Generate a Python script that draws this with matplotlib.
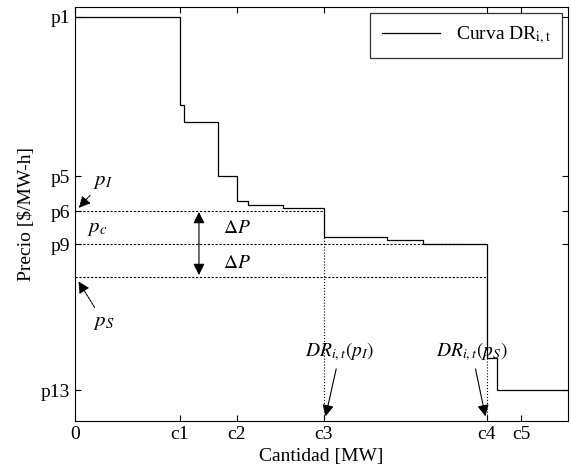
import matplotlib.pyplot as plt

plt.rcParams['font.family'] = ['Liberation Serif', 'DejaVu Serif']
plt.rcParams['mathtext.fontset'] = 'stix'

# stepped demand-response curve: quantity edges and price level per block
edges = [0, 105, 109, 143, 162, 173, 208, 249, 312, 348, 412, 422, 493]
prices = [404, 316, 299, 245, 220, 216, 213, 184, 181, 177, 63, 31]

xticks = [0, 105, 162, 249, 412, 446]
xlabels = ['0', 'c1', 'c2', 'c3', 'c4', 'c5']
yticks = [31, 177, 210, 245, 404]
ylabels = ['p13', 'p9', 'p6', 'p5', 'p1']

p_I = 210
p_c = 177
p_S = 144
dr_pI = 249
dr_pS = 412

fig = plt.figure(figsize=(5.71, 4.76), dpi=100)
ax = fig.add_axes([0.1313, 0.1155, 0.8634, 0.8698])

ax.stairs(prices, edges, baseline=None, color='black', linewidth=0.9,
          label=r'Curva DR$_{\mathrm{i,t}}$')

# reference prices and the matching quantities
ax.plot([0, dr_pI], [p_I, p_I], 'k--', linewidth=0.8, dashes=(2, 1.5))
ax.plot([0, dr_pS], [p_c, p_c], 'k--', linewidth=0.8, dashes=(2, 1.5))
ax.plot([0, dr_pS], [p_S, p_S], 'k--', linewidth=0.8, dashes=(2, 1.5))
ax.plot([dr_pI, dr_pI], [0, p_I], 'k:', linewidth=0.8)
ax.plot([dr_pS, dr_pS], [0, p_S], 'k:', linewidth=0.8)

arw = dict(arrowstyle='-|>', color='black', lw=0.8, mutation_scale=17)
dp_arw = dict(arw, shrinkA=0, shrinkB=0)
ax.annotate('', xy=(124, p_I - 1), xytext=(124, p_c), arrowprops=dp_arw)
ax.annotate('', xy=(124, p_S + 2), xytext=(124, p_c), arrowprops=dp_arw)
ax.text(148, p_c + 16, r'$\mathit{\Delta} P$', fontsize=14, ha='left', va='center')
ax.text(148, p_c - 19, r'$\mathit{\Delta} P$', fontsize=14, ha='left', va='center')

ax.annotate(r'$p_I$', xy=(2, p_I + 1), xytext=(18, 240), fontsize=15,
            ha='left', va='center', arrowprops=dict(arw, ls=(0, (2, 1))))
ax.text(12, 193, r'$p_c$', fontsize=15, ha='left', va='center')
ax.annotate(r'$p_S$', xy=(2, p_S - 2), xytext=(18, 99), fontsize=15,
            ha='left', va='center', arrowprops=dict(arw, ls=(0, (2, 1))))

ax.annotate(r'$DR_{i,t}(p_I)$', xy=(dr_pI + 1, 2), xytext=(265, 69),
            fontsize=14, ha='center', va='center', arrowprops=arw)
ax.annotate(r'$DR_{i,t}(p_S)$', xy=(dr_pS - 1, 2), xytext=(397, 69),
            fontsize=14, ha='center', va='center', arrowprops=arw)

ax.set_xlim(0, 493)
ax.set_ylim(0, 414)
ax.set_xticks(xticks, xlabels)
ax.set_yticks(yticks, ylabels)
ax.tick_params(direction='in', top=True, right=True, labelsize=14, length=4)
ax.set_xlabel('Cantidad [MW]', fontsize=14)
ax.set_ylabel('Precio [$/MW-h]', fontsize=14)

leg = ax.legend(loc='upper right', fontsize=14, frameon=True, fancybox=False,
                edgecolor='black', handlelength=3.0, borderaxespad=0.3,
                borderpad=0.6)
leg.get_frame().set_linewidth(0.9)

fig.savefig('out.png', dpi=100)
